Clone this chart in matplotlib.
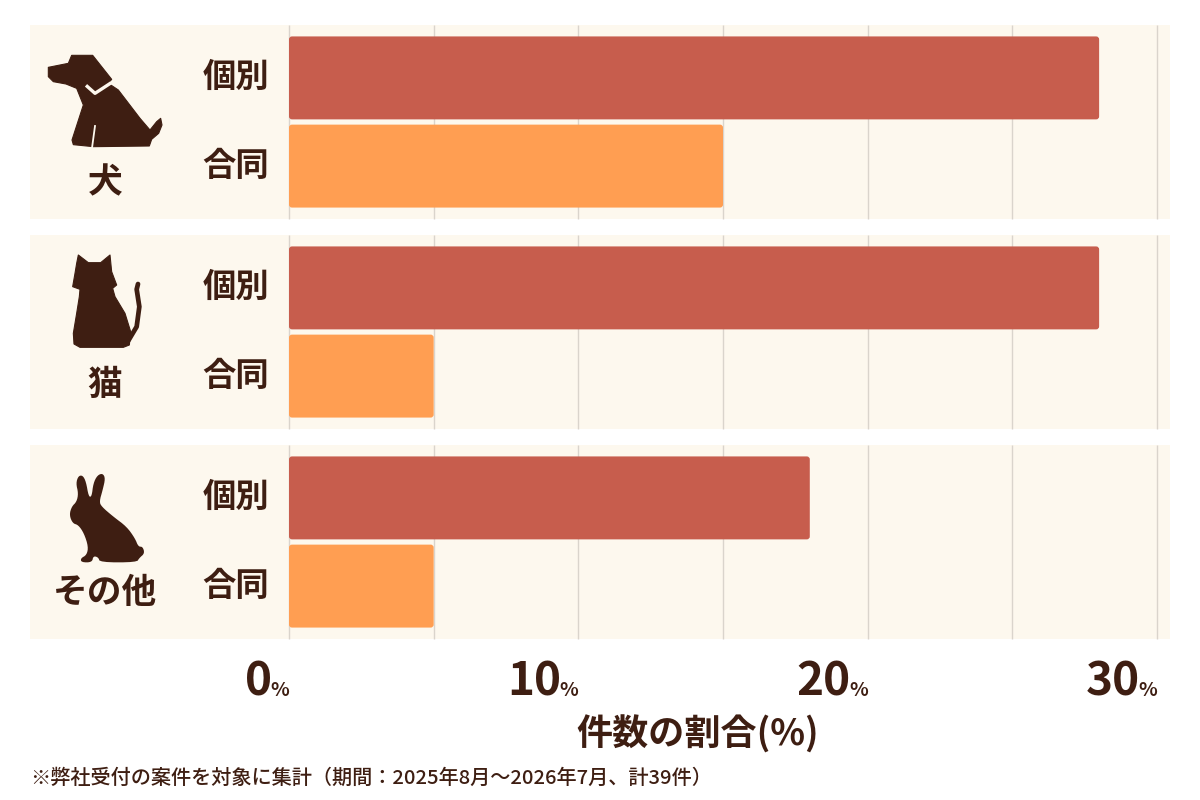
import matplotlib
matplotlib.use("Agg")
import matplotlib.pyplot as plt
from matplotlib.patches import FancyBboxPatch, Polygon, Rectangle
from matplotlib.lines import Line2D
from matplotlib.transforms import Affine2D
import numpy as np

plt.rcParams['font.family'] = ['Noto Sans CJK JP', 'DejaVu Sans']

# --- datos ---
grupos = ["犬", "猫", "その他"]
tipos = ["個別", "合同"]
kobetsu = [28, 28, 18]     # % individual
goudou = [15, 5, 5]        # % conjunto
ticks = [0, 10, 20, 30]
eje_x = "件数の割合(%)"
nota = "※弊社受付の案件を対象に集計（期間：2025年8月～2026年7月、計39件）"

COLOR_KOBETSU = "#C75D4D"
COLOR_GOUDOU = "#FF9E52"
COLOR_PANEL = "#FDF8EE"
COLOR_GRID = "#DAD4CC"
COLOR_TEXTO = "#3E1E12"

W, H = 1200, 800
X0, PX_PCT = 289, 28.933      # pixel de 0% y pixeles por punto %
Y0, PX_GRUPO = 122, 210       # centro del primer grupo y separacion


def px_x(px):
    return (px - X0) / PX_PCT


def px_y(py):
    return (py - Y0) / PX_GRUPO


fig = plt.figure(figsize=(12, 8), dpi=100)
fig.patch.set_facecolor("white")
ax = fig.add_axes([0, 0, 1, 1])
ax.set_xlim(px_x(0), px_x(W))
ax.set_ylim(px_y(H), px_y(0))
ax.axis("off")

# paneles de fondo y rejilla
medio_panel = 0.462
for i in range(len(grupos)):
    ax.add_patch(Rectangle((px_x(30), i - medio_panel), px_x(1170) - px_x(30),
                           2 * medio_panel, facecolor=COLOR_PANEL,
                           edgecolor="none", zorder=0))
    ax.vlines(np.arange(0, 31, 5), i - medio_panel, i + medio_panel,
              color=COLOR_GRID, linewidth=1, zorder=1)

# barras
y = np.arange(len(grupos))
off, alto = 0.21, 0.395
b1 = ax.barh(y - off, kobetsu, height=alto, color=COLOR_KOBETSU, zorder=2)
b2 = ax.barh(y + off, goudou, height=alto, color=COLOR_GOUDOU, zorder=2)

# esquinas redondeadas
r = 3 / PX_PCT
for barra in list(b1) + list(b2):
    x, yb = barra.get_x(), barra.get_y()
    w, h = barra.get_width(), barra.get_height()
    barra.set_visible(False)
    ax.add_patch(FancyBboxPatch((x, yb), w, h,
                                boxstyle=f"round,pad=0,rounding_size={r}",
                                mutation_aspect=PX_PCT / PX_GRUPO,
                                facecolor=barra.get_facecolor(),
                                edgecolor="none", zorder=2))

# etiquetas de tipo
for i in range(len(grupos)):
    for j, t in enumerate(tipos):
        ax.text(px_x(236), i + (2 * j - 1) * off, t, ha="center", va="center",
                fontsize=24, fontweight="bold", color=COLOR_TEXTO)

# iconos (contornos de boceto a escala 3x)
perro = [(25, 52), (85, 40), (95, 16), (158, 16), (215, 88), (205, 100),
         (235, 120), (300, 205), (330, 240), (350, 215), (362, 205), (366, 225),
         (356, 250), (335, 268), (328, 288), (160, 290), (100, 284), (96, 270),
         (130, 165), (110, 115), (78, 102), (40, 95), (25, 80)]
collar = [(138, 106), (165, 130), (214, 98)]
hueco_pata = [(165, 228), (156, 294)]
gato = [(55, 15), (85, 38), (122, 38), (150, 15), (155, 65), (170, 105),
        (158, 115), (165, 140), (195, 190), (212, 245), (208, 285), (190, 292),
        (60, 292), (42, 282), (40, 250), (50, 190), (58, 140), (60, 118),
        (38, 110), (45, 70), (50, 40)]
cola_gato = [(205, 272), (230, 230), (238, 170), (230, 118), (234, 102)]
conejo = [(48, 40), (55, 18), (68, 16), (78, 35), (86, 80), (95, 80), (100, 40),
          (112, 16), (128, 10), (136, 25), (128, 60), (118, 95), (125, 110),
          (160, 140), (200, 170), (225, 205), (235, 230), (248, 230), (254, 250),
          (238, 264), (230, 277), (120, 277), (115, 262), (100, 258), (96, 277),
          (64, 277), (62, 265), (80, 255), (85, 230), (72, 190), (55, 165),
          (38, 160), (28, 135), (35, 110), (50, 95), (55, 70)]


def suavizar(p, n=2):
    p = np.asarray(p, float)
    for _ in range(n):
        q = np.roll(p, -1, axis=0)
        a = 0.75 * p + 0.25 * q
        b = 0.25 * p + 0.75 * q
        p = np.empty((2 * len(a), 2))
        p[0::2], p[1::2] = a, b
    return p


def trans_icono(ox, oy):
    return (Affine2D().scale(1 / 3, -1 / 3).translate(ox, H - oy).scale(1 / 100)
            + fig.dpi_scale_trans)


t_perro = trans_icono(40, 50)
t_gato = trans_icono(60, 250)
t_conejo = trans_icono(60, 470)
fig.add_artist(Polygon(perro, closed=True, facecolor=COLOR_TEXTO,
                       edgecolor=COLOR_TEXTO, linewidth=0.8, joinstyle="round",
                       transform=t_perro))
fig.add_artist(Line2D(*zip(*collar), color=COLOR_PANEL, linewidth=2.4,
                      solid_capstyle="butt", transform=t_perro))
fig.add_artist(Line2D(*zip(*hueco_pata), color=COLOR_PANEL, linewidth=1.3,
                      transform=t_perro))
fig.add_artist(Polygon(gato, closed=True, facecolor=COLOR_TEXTO,
                       edgecolor=COLOR_TEXTO, linewidth=0.8, joinstyle="round",
                       transform=t_gato))
fig.add_artist(Line2D(*zip(*cola_gato), color=COLOR_TEXTO,
                      linewidth=3.4, solid_capstyle="round", solid_joinstyle="round",
                      transform=t_gato))
fig.add_artist(Polygon(suavizar(conejo, 2), closed=True, facecolor=COLOR_TEXTO,
                       edgecolor="none", transform=t_conejo))

# nombres de grupo
desp_nombre = [0.29, 0.25, 0.24]
for i, g in enumerate(grupos):
    ax.text(px_x(105), i + desp_nombre[i], g, ha="center", va="center",
            fontsize=25, fontweight="bold", color=COLOR_TEXTO)

# eje x
for t in ticks:
    ax.annotate(f"{t}", xy=(t, px_y(696)), xytext=(-17, 0),
                textcoords="offset pixels", ha="right", va="baseline",
                fontsize=33, fontweight="bold", color=COLOR_TEXTO)
    ax.annotate("%", xy=(t, px_y(696)), ha="right", va="baseline",
                fontsize=14, fontweight="bold", color=COLOR_TEXTO)

ax.text(px_x(698), px_y(735), eje_x, ha="center", va="center",
        fontsize=26, fontweight="bold", color=COLOR_TEXTO)
ax.text(px_x(30), px_y(778), nota, ha="left", va="center",
        fontsize=14.5, fontweight="medium", color=COLOR_TEXTO)

fig.savefig("out.png", dpi=100, facecolor="white")
plt.close(fig)
